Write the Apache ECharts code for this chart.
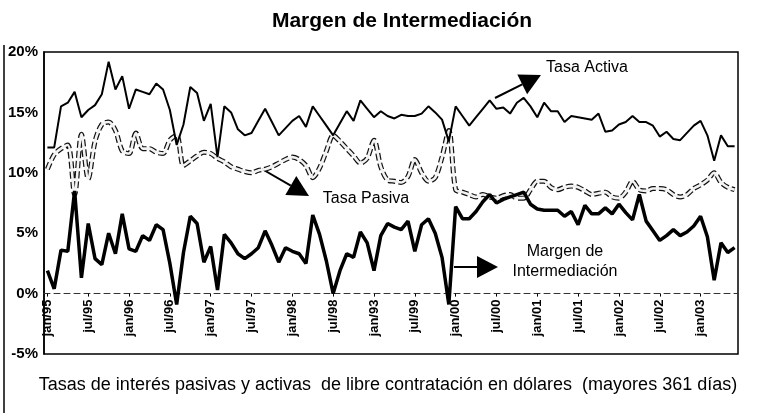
<!DOCTYPE html>
<html>
<head>
<meta charset="utf-8">
<script src="https://cdn.jsdelivr.net/npm/echarts@6/dist/echarts.min.js"></script>
<style>
  html, body { margin: 0; padding: 0; background: #fff; }
  #chart { width: 768px; height: 413px; }
</style>
</head>
<body>
<div id="chart"></div>
<script>
// meses jan/95 .. jun/03
const startYear = 1995
const monthNames = ['jan', 'feb', 'mar', 'apr', 'may', 'jun', 'jul', 'aug', 'sep', 'oct', 'nov', 'dec']
const tickLabels = ['jan/95', 'jul/95', 'jan/96', 'jul/96', 'jan/97', 'jul/97', 'jan/98', 'jul/98', 'jan/93',
  'jul/99', 'jan/00', 'jul/00', 'jan/01', 'jul/01', 'jan/02', 'jul/02', 'jan/03']

const tasaActiva = [
  12.1, 12.1, 15.5, 15.8, 16.7, 14.6, 15.2, 15.6, 16.5, 19.2,
  16.9, 18.0, 15.3, 16.9, 16.7, 16.5, 17.4, 16.9, 15.2, 12.3,
  14.0, 17.1, 16.6, 14.3, 15.7, 11.3, 15.5, 15.0, 13.6, 13.1,
  13.3, 14.3, 15.3, 14.2, 13.1, 13.7, 14.3, 14.7, 13.8, 15.5,
  14.7, 13.9, 13.1, 14.1, 15.1, 14.3, 16.0, 15.3, 14.6, 15.1,
  14.7, 14.5, 14.8, 14.7, 14.7, 14.9, 15.5, 15.0, 14.4, 12.6,
  15.5, 14.7, 13.9, 14.6, 15.3, 16.0, 15.3, 15.4, 14.9, 15.8,
  16.2, 15.5, 14.6, 15.8, 15.1, 15.1, 14.2, 14.7, 14.6, 14.5,
  14.4, 14.9, 13.4, 13.5, 14.0, 14.2, 14.7, 14.2, 14.2, 13.9,
  13.0, 13.4, 12.8, 12.7, 13.3, 13.9, 14.3, 13.1, 11.0, 13.1,
  12.2, 12.2
]

const tasaPasiva = [
  10.3, 11.5, 12.0, 12.3, 8.2, 13.2, 9.5, 12.6, 14.0, 14.2,
  13.5, 11.8, 11.6, 13.3, 12.0, 12.0, 11.7, 11.6, 12.7, 13.1,
  10.6, 11.0, 11.4, 11.7, 11.6, 11.2, 10.9, 10.5, 10.3, 10.1,
  10.0, 10.2, 10.3, 10.5, 10.8, 11.1, 11.3, 11.1, 10.6, 9.6,
  10.4, 11.8, 13.1, 12.6, 12.0, 11.4, 10.8, 11.2, 12.7, 10.5,
  9.4, 9.3, 9.2, 9.7, 11.1, 10.0, 9.3, 9.6, 11.3, 13.5,
  8.6, 8.4, 8.2, 8.0, 8.2, 8.0, 7.9, 8.1, 8.2, 7.9,
  7.9, 8.6, 9.3, 9.3, 8.8, 8.6, 8.8, 8.9, 8.8, 8.5,
  8.2, 8.3, 8.4, 8.0, 7.9, 8.4, 9.3, 8.6, 8.5, 8.7,
  8.7, 8.6, 8.2, 8.0, 8.2, 8.7, 9.0, 9.4, 10.0, 9.2,
  8.8, 8.6
]

const margen = [
  1.9, 0.4, 3.6, 3.5, 8.5, 1.3, 5.8, 2.9, 2.4, 5.0,
  3.3, 6.6, 3.7, 3.5, 4.8, 4.4, 5.7, 5.3, 2.5, -0.9,
  3.4, 6.4, 5.8, 2.6, 3.9, 0.3, 4.9, 4.2, 3.3, 2.9,
  3.3, 3.8, 5.2, 4.0, 2.6, 3.8, 3.5, 3.3, 2.5, 6.5,
  4.9, 2.7, 0.0, 1.9, 3.3, 3.0, 5.1, 4.2, 1.9, 4.8,
  5.8, 5.5, 5.3, 6.0, 3.5, 5.7, 6.2, 5.0, 3.0, -0.9,
  7.2, 6.2, 6.2, 6.8, 7.6, 8.2, 7.5, 7.8, 8.0, 8.2,
  8.4, 7.4, 7.0, 6.9, 6.9, 6.9, 6.4, 6.8, 5.7, 7.3,
  6.6, 6.6, 7.1, 6.6, 7.4, 6.7, 6.1, 8.2, 6.0, 5.2,
  4.4, 4.8, 5.3, 4.8, 5.1, 5.6, 6.4, 4.7, 1.1, 4.2,
  3.4, 3.8
]

const categories = tasaActiva.map((_, i) =>
  monthNames[i % 12] + '/' + String((startYear + Math.floor(i / 12)) % 100).padStart(2, '0'))

const font = "'Liberation Sans', Arial, sans-serif"
const gridTop = 52, gridBottom = 59, chartH = 413
const yMin = -5, yMax = 20
// el eje x va en 0%, dentro del area
const zeroOffset = -(chartH - gridTop - gridBottom) * (0 - yMin) / (yMax - yMin)

// flecha: linea + punta triangular
function arrow(x1, y1, x2, y2, len, half) {
  const d = Math.hypot(x2 - x1, y2 - y1)
  const ux = (x2 - x1) / d, uy = (y2 - y1) / d
  const bx = x2 - ux * len, by = y2 - uy * len
  return [
    { type: 'line', shape: { x1: x1, y1: y1, x2: bx, y2: by }, style: { stroke: '#000', lineWidth: 2 } },
    { type: 'polygon', shape: { points: [[x2, y2], [bx - uy * half, by + ux * half], [bx + uy * half, by - ux * half]] },
      style: { fill: '#000' } }
  ]
}

function label(text, x, y, size) {
  return { type: 'text', x: x, y: y,
    style: { text: text, font: size + 'px ' + font, fill: '#000', textAlign: 'center', textVerticalAlign: 'middle' } }
}

const myChart = echarts.init(document.getElementById('chart'))
const option = {
  animation: false,
  backgroundColor: '#fff',
  title: {
    text: 'Margen de Intermediación',
    left: 397,
    textAlign: 'center',
    top: 6,
    textStyle: { fontFamily: font, fontSize: 21, fontWeight: 'bold', color: '#000' }
  },
  grid: {
    show: true,
    left: 44,
    right: 30,
    top: gridTop,
    bottom: gridBottom,
    borderColor: '#000',
    borderWidth: 1.5,
    outerBoundsMode: 'none'
  },
  xAxis: {
    type: 'category',
    data: categories,
    boundaryGap: true,
    offset: zeroOffset,
    axisLine: { onZero: false, lineStyle: { color: '#333', width: 1, type: [6, 4] } },
    axisTick: { show: true, interval: 5, alignWithLabel: true, length: 3, lineStyle: { color: '#000' } },
    axisLabel: {
      interval: 5,
      rotate: 90,
      margin: 6,
      fontFamily: font,
      fontSize: 13,
      fontWeight: 'bold',
      color: '#000',
      formatter: (v, i) => tickLabels[i / 6] || ''
    },
    splitLine: { show: false }
  },
  yAxis: {
    type: 'value',
    min: yMin,
    max: yMax,
    interval: 5,
    axisLine: { show: true, lineStyle: { color: '#000', width: 1.5 } },
    axisTick: { show: false },
    axisLabel: { formatter: '{value}%', fontFamily: font, fontSize: 15, fontWeight: 'bold', color: '#000', margin: 6 },
    splitLine: { show: false }
  },
  series: [
    {
      name: 'Tasa Activa',
      type: 'line',
      data: tasaActiva,
      symbol: 'none',
      lineStyle: { color: '#000', width: 2 },
      z: 3
    },
    {
      name: 'Tasa Pasiva',
      type: 'line',
      data: tasaPasiva,
      symbol: 'none',
      smooth: 0.3,
      lineStyle: { color: '#111', width: 5, type: [7, 3] },
      z: 2
    },
    {
      name: 'Tasa Pasiva interior',
      type: 'line',
      data: tasaPasiva,
      symbol: 'none',
      smooth: 0.3,
      lineStyle: { color: '#f2f2f2', width: 2.6 },
      z: 2
    },
    {
      name: 'Margen de Intermediación',
      type: 'line',
      data: margen,
      symbol: 'none',
      lineStyle: { color: '#000', width: 3.5 },
      z: 4
    }
  ],
  graphic: [
    { type: 'line', shape: { x1: 4, y1: 45, x2: 4, y2: 413 }, style: { stroke: '#000', lineWidth: 1.5 } },
    ...arrow(495, 98, 541, 75, 21, 11),
    ...arrow(262, 169, 309, 196, 21, 11),
    ...arrow(454, 267, 498, 267, 21, 11),
    label('Tasa Activa', 587, 68, 16),
    label('Tasa Pasiva', 366, 199, 16),
    label('Margen de', 565, 252, 16),
    label('Intermediación', 565, 272, 16),
    label('Tasas de interés pasivas y activas  de libre contratación en dólares  (mayores 361 días)', 388, 385, 18)
  ]
}
myChart.setOption(option)
</script>
</body>
</html>
